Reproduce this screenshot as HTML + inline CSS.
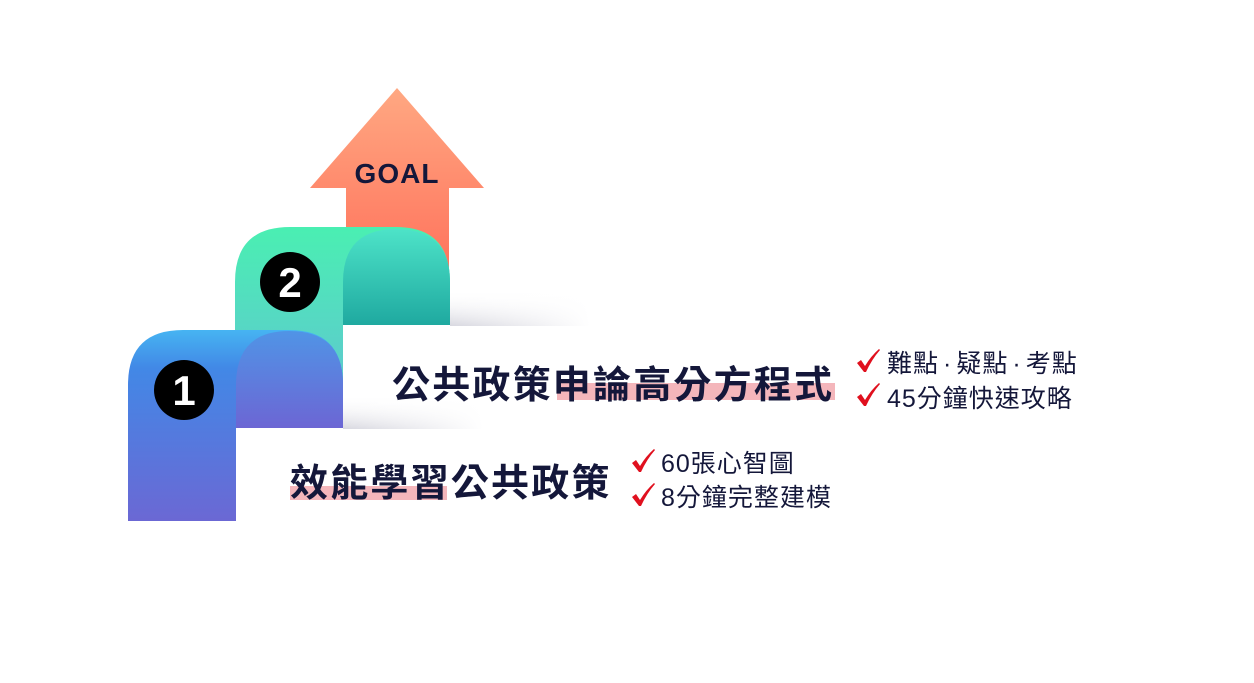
<!DOCTYPE html>
<html><head><meta charset="utf-8"><style>
body{margin:0;width:1254px;height:683px;background:#fff;position:relative;overflow:hidden;font-family:"Liberation Sans","Noto Sans CJK TC",sans-serif}
.a{position:absolute}
.t{position:absolute;white-space:nowrap;color:#14173a}
.big{font-size:38px;font-weight:700;letter-spacing:2.2px}
.sm{font-size:25px;font-weight:400;letter-spacing:1px}
.hl{position:absolute;background:#f4b6bb}
.d{margin:0 4px}
</style></head><body>
<svg class="a" style="left:0;top:0" width="1254" height="683">
<defs>
<linearGradient id="ar" x1="0" y1="0" x2="0" y2="1"><stop offset="0" stop-color="#ffa882"/><stop offset="1" stop-color="#ff6a56"/></linearGradient>
<linearGradient id="g1" x1="0" y1="0" x2="0" y2="1"><stop offset="0" stop-color="#4aefb2"/><stop offset="1" stop-color="#63bfd6"/></linearGradient>
<linearGradient id="g2" x1="0" y1="0" x2="0" y2="1"><stop offset="0" stop-color="#4de3c8"/><stop offset="1" stop-color="#1fa9a0"/></linearGradient>
<linearGradient id="b1" x1="0" y1="0" x2="0" y2="1"><stop offset="0" stop-color="#46b4f2"/><stop offset="0.2" stop-color="#4288e6"/><stop offset="1" stop-color="#6b68d4"/></linearGradient>
<linearGradient id="b2" x1="0" y1="0" x2="0" y2="1"><stop offset="0" stop-color="#5094e6"/><stop offset="1" stop-color="#6c66d4"/></linearGradient>
<linearGradient id="sh1" x1="0" y1="0" x2="0" y2="1"><stop offset="0" stop-color="#fff" stop-opacity="0"/><stop offset="1" stop-color="#d8d8e0"/></linearGradient>
<linearGradient id="shx" x1="0" y1="0" x2="1" y2="0"><stop offset="0" stop-color="#fff" stop-opacity="0"/><stop offset="1" stop-color="#fff"/></linearGradient>
<path id="ck" d="M0,10 L4,7 L8,13 Q14,3 22,-4 L23,-3 Q15,6 9,19 L7,19 Z" fill="#e0101e"/>
</defs>
<polygon points="397,88 484,188 449,188 449,300 346,300 346,188 310,188" fill="url(#ar)"/>
<text x="397" y="183" text-anchor="middle" font-family="Liberation Sans" font-weight="700" font-size="28" fill="#14173a" letter-spacing="1">GOAL</text>
<rect x="450" y="290" width="140" height="36" fill="url(#sh1)"/>
<rect x="450" y="290" width="140" height="36" fill="url(#shx)"/>
<rect x="343" y="395" width="140" height="34" fill="url(#sh1)"/>
<rect x="343" y="395" width="140" height="34" fill="url(#shx)"/>
<path d="M235,428 L235,282 Q235,227 290,227 L396,227 Q450,227 450,282 L450,325 L343,325 L343,428 Z" fill="url(#g1)"/>
<path d="M343,325 L343,282 Q343,229 396,229 Q450,229 450,282 L450,325 Z" fill="url(#g2)"/>
<circle cx="290" cy="282" r="30" fill="#000"/>
<text x="290" y="297" text-anchor="middle" font-family="Liberation Sans" font-weight="700" font-size="42" fill="#fff">2</text>
<path d="M128,521 L128,385 Q128,330 183,330 L289,330 Q343,330 343,385 L343,428 L236,428 L236,521 Z" fill="url(#b1)"/>
<path d="M236,428 L236,385 Q236,331 289,331 Q343,331 343,385 L343,428 Z" fill="url(#b2)"/>
<circle cx="184" cy="390" r="30" fill="#000"/>
<text x="184" y="405" text-anchor="middle" font-family="Liberation Sans" font-weight="700" font-size="42" fill="#fff">1</text>
<use href="#ck" x="857" y="353"/>
<use href="#ck" x="857" y="387"/>
<use href="#ck" x="632" y="453"/>
<use href="#ck" x="632" y="487"/>
</svg>
<div class="hl" style="left:557px;top:383px;width:278px;height:17px"></div>
<div class="t big" style="left:392px;top:354px">公共政策申論高分方程式</div>
<div class="hl" style="left:290px;top:486px;width:157px;height:14px"></div>
<div class="t big" style="left:290px;top:452px">效能學習公共政策</div>
<div class="t sm" style="left:887px;top:344px">難點<span class="d">·</span>疑點<span class="d">·</span>考點</div>
<div class="t sm" style="left:887px;top:379px">45分鐘快速攻略</div>
<div class="t sm" style="left:661px;top:444px">60張心智圖</div>
<div class="t sm" style="left:661px;top:478px">8分鐘完整建模</div>
</body></html>
